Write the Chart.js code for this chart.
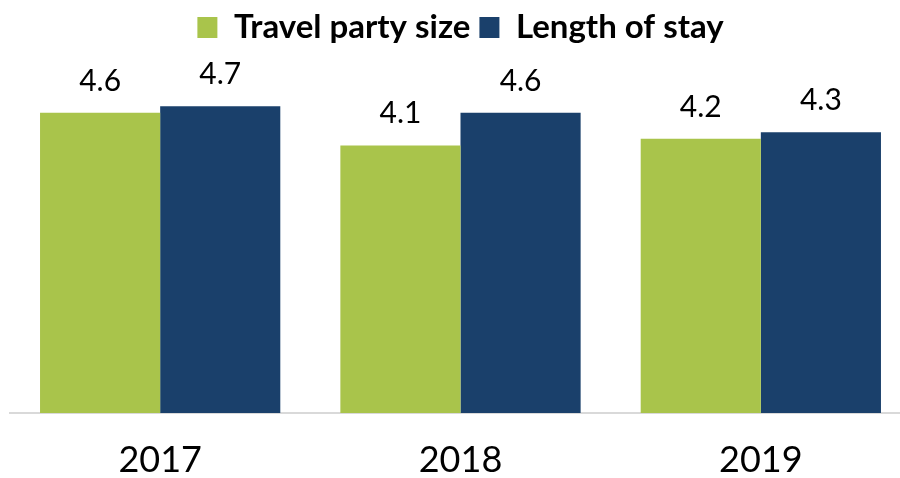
<!DOCTYPE html>
<html>
<head>
<meta charset="utf-8">
<script src="https://cdn.jsdelivr.net/npm/chart.js@4/dist/chart.umd.min.js"></script>
<style>
  html, body { margin: 0; padding: 0; background: #fff; overflow: hidden; }
  #wrap { position: relative; width: 912px; height: 478px; }
</style>
</head>
<body>
<div id="wrap"><canvas id="chart"></canvas></div>
<script>
const years = ["2017", "2018", "2019"];
const partySize = [4.6, 4.1, 4.2];
const stayLength = [4.7, 4.6, 4.3];

const greenColor = "#a9c44b";
const blueColor = "#1a406b";

// values above each bar
const barLabels = {
  id: "barLabels",
  afterDatasetsDraw(chart) {
    const ctx = chart.ctx;
    ctx.save();
    ctx.font = "30px Lato";
    ctx.fillStyle = "#000";
    ctx.textAlign = "center";
    ctx.textBaseline = "alphabetic";
    chart.data.datasets.forEach((ds, i) => {
      chart.getDatasetMeta(i).data.forEach((bar, j) => {
        ctx.fillText(ds.data[j].toFixed(1), bar.x, bar.y - 22);
      });
    });
    ctx.restore();
  }
};

new Chart(document.getElementById("chart"), {
  type: "bar",
  data: {
    labels: years,
    datasets: [
      {
        label: "Travel party size",
        data: partySize,
        backgroundColor: greenColor,
        categoryPercentage: 0.8,
        barPercentage: 1
      },
      {
        label: "Length of stay",
        data: stayLength,
        backgroundColor: blueColor,
        categoryPercentage: 0.8,
        barPercentage: 1
      }
    ]
  },
  options: {
    responsive: true,
    maintainAspectRatio: false,
    animation: false,
    layout: {
      padding: { left: 10, right: 1, top: 2, bottom: 0 }
    },
    plugins: {
      legend: {
        position: "top",
        labels: {
          color: "#000",
          boxWidth: 20,
          boxHeight: 21,
          padding: 9,
          font: { family: "Lato", size: 33, weight: "bold" }
        }
      },
      tooltip: { enabled: false }
    },
    scales: {
      x: {
        grid: { display: false },
        border: { display: true, color: "#d9d9d9", width: 2 },
        ticks: {
          color: "#000",
          padding: 18,
          font: { family: "Lato", size: 36 }
        },
        afterFit(scale) {
          scale.height = 65;
        }
      },
      y: {
        display: false,
        min: 0,
        max: 5.5
      }
    }
  },
  plugins: [barLabels]
});
</script>
</body>
</html>
